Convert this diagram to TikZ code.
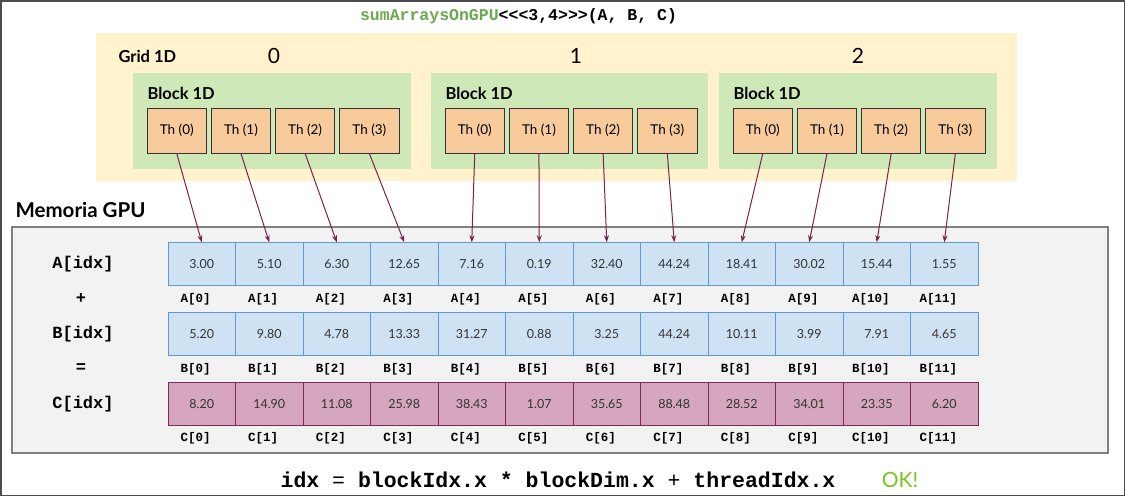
\documentclass[tikz,border=0pt]{standalone}
\usepackage{fontspec}
\setmainfont{Lato}
\setmonofont{Liberation Mono}
\usetikzlibrary{arrows.meta}
\definecolor{gridbg}{HTML}{FFF2CC}
\definecolor{blockbg}{HTML}{CFE8B7}
\definecolor{thfill}{HTML}{F8CB9C}
\definecolor{memfill}{HTML}{F2F2F2}
\definecolor{abfill}{HTML}{CFE2F3}
\definecolor{abdraw}{HTML}{5B9BD5}
\definecolor{cfill}{HTML}{D5A6BD}
\definecolor{cdraw}{HTML}{7F2A55}
\definecolor{arrcol}{HTML}{76234D}
\definecolor{kgreen}{HTML}{6AA84F}
\definecolor{okgreen}{HTML}{7AC21E}
\begin{document}
\begin{tikzpicture}[x=1pt, y=-1pt,
    thbox/.style = {draw=black!80, fill=thfill, line width=1pt, minimum width=59.5pt, minimum height=45pt, inner sep=0pt, font=\fontsize{13.5}{15}\selectfont},
    cell/.style = {draw=abdraw, fill=abfill, line width=1pt, minimum width=67.5pt, minimum height=42.5pt, inner sep=0pt, text=black!80, font=\fontsize{12.5}{14}\selectfont},
    cellc/.style = {cell, draw=cdraw, fill=cfill},
    idx/.style = {font=\ttfamily\bfseries\fontsize{12.5}{14}\selectfont},
    rowlbl/.style = {font=\ttfamily\bfseries\fontsize{17}{20}\selectfont},
    head/.style = {anchor=west, font=\bfseries\fontsize{16.5}{18}\selectfont},
    arr/.style = {draw=arrcol, line width=1pt, -{Stealth[length=7pt, width=5pt]}}]
    \useasboundingbox (0,0) rectangle (1125,496);
    \draw[black!70, line width=1.5pt] (0.75,0.75) rectangle (1124.25,495.25);
    % kernel call
    \node (title) at (518.5,16) {\ttfamily\bfseries\fontsize{16.5}{18}\selectfont\textcolor{kgreen}{sumArraysOnGPU}<<<3,4>>>(A, B, C)};
    % grid and blocks
    \fill[gridbg] (96,33) rectangle (1017,181);
    \node[head] (grid) at (115,56) {Grid 1D};
    \foreach \b/\l/\r/\nx in {0/133/411/274, 1/431/708/576, 2/719/997/858} {
        \fill[blockbg] (\l,73) rectangle (\r,169);
        \node[font=\fontsize{21}{24}\selectfont] (num\b) at (\nx,56) {\b};
        \node[head] (blk\b) at (\l+11,93) {Block 1D};
        \foreach \t in {0,...,3}
            \node[thbox] (th\b\t) at ({\l+14+29.75+64.2*\t},130.5) {Th (\t)};
    }
    % memory
    \node[anchor=west, font=\bfseries\fontsize{20.5}{22}\selectfont] (mem) at (12,210) {Memoria GPU};
    \draw[black!50, fill=memfill, line width=1.5pt] (12,227) rectangle (1108,453);
    \foreach \v [count=\i from 0] in {3.00,5.10,6.30,12.65,7.16,0.19,32.40,44.24,18.41,30.02,15.44,1.55} {
        \node[cell] (a\i) at ({201.75+67.5*\i},264) {\v};
        \node[idx] (la\i) at ([xshift=-6pt, yshift=-13.5pt]a\i.south) {A[\i]};
    }
    \foreach \v [count=\i from 0] in {5.20,9.80,4.78,13.33,31.27,0.88,3.25,44.24,10.11,3.99,7.91,4.65} {
        \node[cell] (b\i) at ({201.75+67.5*\i},334) {\v};
        \node[idx] (lb\i) at ([xshift=-6pt, yshift=-13.5pt]b\i.south) {B[\i]};
    }
    \foreach \v [count=\i from 0] in {8.20,14.90,11.08,25.98,38.43,1.07,35.65,88.48,28.52,34.01,23.35,6.20} {
        \node[cellc] (c\i) at ({201.75+67.5*\i},404) {\v};
        \node[idx] (lc\i) at ([xshift=-6pt, yshift=-12.5pt]c\i.south) {C[\i]};
    }
    \node[rowlbl] (ra) at (83,264) {A[idx]};
    \node[rowlbl] (plus) at (81,299) {+};
    \node[rowlbl] (rb) at (83,334) {B[idx]};
    \node[rowlbl] (eq) at (81,368) {=};
    \node[rowlbl] (rc) at (83,404) {C[idx]};
    % thread -> element
    \foreach \b in {0,1,2}
        \foreach \t in {0,...,3} {
            \pgfmathtruncatemacro{\n}{4*\b+\t}
            \draw[arr] (th\b\t.south) -- (a\n.north);
        }
    % index formula
    \node (formula) at (558,480) {\ttfamily\fontsize{21.5}{24}\selectfont\textbf{idx} = \textbf{blockIdx.x * blockDim.x} + \textbf{threadIdx.x}};
    \node[text=okgreen, font=\fontsize{21}{24}\selectfont] (ok) at (900,480) {OK!};
\end{tikzpicture}
\end{document}
